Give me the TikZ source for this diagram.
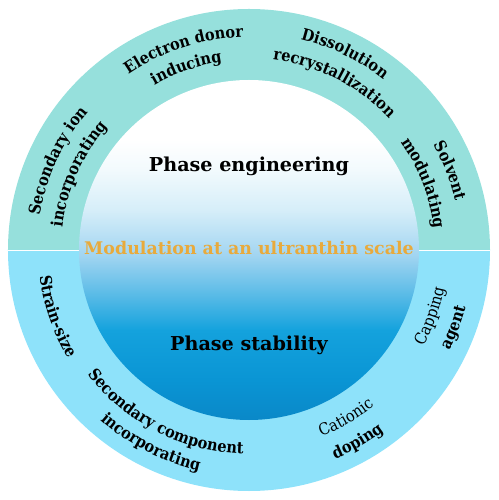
\documentclass[tikz,border=0pt]{standalone}
\usepackage{fontspec}
\setmainfont{DejaVu Serif}
\newfontfamily\ringfam[FakeStretch=0.9]{DejaVu Serif}
\usetikzlibrary{decorations.text}

\definecolor{ringtop}{HTML}{96E0DC}
\definecolor{ringbot}{HTML}{8EE2FA}
\definecolor{modcol}{HTML}{E8AA3C}
\definecolor{sh1}{HTML}{0A88C8}
\definecolor{sh2}{HTML}{0A95D4}
\definecolor{sh3}{HTML}{14A2DD}
\definecolor{sh4}{HTML}{62BEE8}
\definecolor{sh5}{HTML}{A2D5F1}
\definecolor{sh6}{HTML}{D6EEF9}
\definecolor{sh7}{HTML}{F2FAFD}
\pgfdeclareverticalshading{phaseshade}{100bp}{color(0bp)=(sh1); color(25bp)=(sh1); color(30.9bp)=(sh2); color(38.2bp)=(sh3); color(44.1bp)=(sh4); color(49.3bp)=(sh5); color(55.9bp)=(sh6); color(61.8bp)=(sh7); color(66.2bp)=(white); color(100bp)=(white)}

\newcommand\ringbf{\ringfam\fontsize{9.2}{11}\selectfont\bfseries}
\newcommand\ringrm{\ringfam\fontsize{9.2}{11}\selectfont}
\newcommand\midbf{\fontsize{10.9}{13}\selectfont\bfseries}
\newcommand\modbf{\fontsize{9.9}{12}\selectfont\bfseries}

\tikzset{
  ringtxt/.style={decorate,decoration={text along path,text align=center,text={#1}}}
}

\begin{document}
\begin{tikzpicture}[x=0.02cm,y=0.02cm]
\useasboundingbox (-249,-250) rectangle (250,250);
\coordinate (O) at (0,0);
% ring
\fill[ringtop] (241,0) arc[start angle=0,end angle=180,radius=241] -- cycle;
\fill[ringbot] (-241,0) arc[start angle=180,end angle=360,radius=241] -- cycle;
\draw[white,line width=0.4pt] (-241,0)--(241,0);
\shade[shading=phaseshade] (O) circle[radius=170];
% centre
\node[anchor=base] (eng) at (0,78) {\midbf Phase engineering};
\node[anchor=base,text=modcol] (mod) at (0,-5) {\modbf Modulation at an ultranthin scale};
\node[anchor=base] (stab) at (0,-101) {\midbf Phase stability};
% upper labels, clockwise
\path[ringtxt={|\ringbf|Secondary ion}] (200:212) arc[start angle=200,end angle=110,radius=212];
\path[ringtxt={|\ringbf|incorporating}] (201:188) arc[start angle=201,end angle=111,radius=188];
\path[ringtxt={|\ringbf|Electron donor}] (153:213) arc[start angle=153,end angle=63,radius=213];
\path[ringtxt={|\ringbf|inducing}] (154:190) arc[start angle=154,end angle=64,radius=190];
\path[ringtxt={|\ringbf|Dissolution}] (109:217) arc[start angle=109,end angle=19,radius=217];
\path[ringtxt={|\ringbf|recrystallization}] (108:192) arc[start angle=108,end angle=18,radius=192];
\path[ringtxt={|\ringbf|Solvent}] (66.5:212) arc[start angle=66.5,end angle=-23.5,radius=212];
\path[ringtxt={|\ringbf|modulating}] (66:186) arc[start angle=66,end angle=-24,radius=186];
% lower labels, counterclockwise
\path[ringtxt={|\ringbf|Strain-size}] (154:211) arc[start angle=154,end angle=244,radius=211];
\path[ringtxt={|\ringbf|Secondary component}] (198:204) arc[start angle=198,end angle=288,radius=204];
\path[ringtxt={|\ringbf|incorporating}] (198:226) arc[start angle=198,end angle=288,radius=226];
\path[ringtxt={|\ringrm|Cationic}] (255:200) arc[start angle=255,end angle=345,radius=200];
\path[ringtxt={|\ringbf|doping}] (254.5:226) arc[start angle=254.5,end angle=344.5,radius=226];
\path[ringtxt={|\ringrm|Capping}] (295:199) arc[start angle=295,end angle=385,radius=199];
\path[ringtxt={|\ringbf|agent}] (294.3:224) arc[start angle=294.3,end angle=384.3,radius=224];
\end{tikzpicture}
\end{document}
